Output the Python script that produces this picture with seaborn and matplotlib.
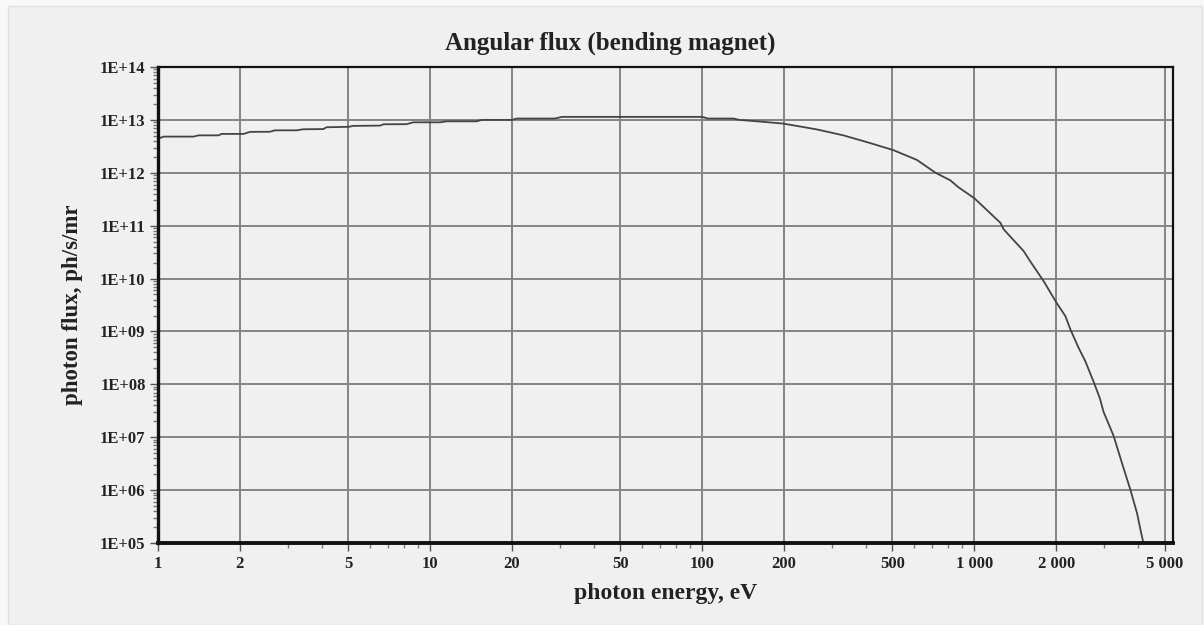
import numpy as np
import pandas as pd
import matplotlib
matplotlib.use("Agg")
import matplotlib.pyplot as plt
import matplotlib.ticker as mticker
from matplotlib.patches import Rectangle
import seaborn as sns

# Photon energy (eV) and angular flux (ph/s/mr) of the bending magnet spectrum
energy_ev = [1.0, 1.05, 1.35, 1.41, 1.67, 1.71, 2.06, 2.18, 2.58, 2.69, 3.23, 3.42,
             4.05, 4.16, 5.04, 5.2, 6.55, 6.74, 8.2, 8.67, 10.9, 11.5, 14.8, 15.5,
             20.0, 20.8, 28.7, 30.5, 100.0, 105.0, 130.0, 137.0, 159.0, 199.0, 264.0,
             330.0, 403.0, 502.0, 615.0, 720.0, 816.0, 875.0, 1000.0, 1247.0, 1282.0,
             1518.0, 1606.0, 1798.0, 1996.0, 2160.0, 2256.0, 2416.0, 2560.0, 2746.0,
             2890.0, 2985.0, 3251.0, 3490.0, 3748.0, 3965.0, 4076.0, 4180.0]
flux = [4.43e12, 4.83e12, 4.83e12, 5.1e12, 5.1e12, 5.43e12, 5.43e12, 5.93e12, 5.97e12,
        6.35e12, 6.35e12, 6.65e12, 6.7e12, 7.25e12, 7.4e12, 7.7e12, 7.8e12, 8.26e12,
        8.3e12, 9.0e12, 9.0e12, 9.4e12, 9.4e12, 1.0e13, 1.0e13, 1.06e13, 1.06e13,
        1.14e13, 1.14e13, 1.06e13, 1.06e13, 1.0e13, 9.4e12, 8.5e12, 6.6e12, 5.1e12,
        3.8e12, 2.7e12, 1.75e12, 1.0e12, 7.2e11, 5.3e11, 3.3e11, 1.13e11, 8.5e10,
        3.3e10, 2.1e10, 8.9e9, 3.6e9, 1.95e9, 1.08e9, 4.9e8, 2.7e8, 1.1e8,
        5.5e7, 3.0e7, 1.05e7, 3.2e6, 1.0e6, 3.6e5, 1.8e5, 1.0e5]

x_ticks = [1, 2, 5, 10, 20, 50, 100, 200, 500, 1000, 2000, 5000]
x_tick_labels = ["1", "2", "5", "10", "20", "50", "100", "200", "500",
                 "1 000", "2 000", "5 000"]
y_ticks = [1e5, 1e6, 1e7, 1e8, 1e9, 1e10, 1e11, 1e12, 1e13, 1e14]
y_tick_labels = ["1E+05", "1E+06", "1E+07", "1E+08", "1E+09", "1E+10",
                 "1E+11", "1E+12", "1E+13", "1E+14"]

title = "Angular flux (bending magnet)"
x_label = "photon energy, eV"
y_label = "photon flux, ph/s/mr"

sns.set_theme(style="ticks")
plt.rcParams["font.family"] = ["Liberation Serif", "DejaVu Serif"]
plt.rcParams["font.weight"] = "bold"

TEXT = "#222222"
BG = "#f0f0f0"

fig = plt.figure(figsize=(12.04, 6.25), dpi=100, facecolor="#f8f8f8")
fig.patches.append(Rectangle((8 / 1204, 0), 1 - 10 / 1204, 1 - 6 / 625,
                             transform=fig.transFigure, facecolor=BG,
                             edgecolor="#e0e0e0", linewidth=1.0, zorder=-10))
ax = fig.add_axes([158 / 1204, 1 - 543 / 625, (1173 - 158) / 1204, (543 - 67) / 625])
ax.set_facecolor(BG)

df = pd.DataFrame({"energy": energy_ev, "flux": flux})
sns.lineplot(data=df, x="energy", y="flux", ax=ax, color="#444444",
             linewidth=1.3, sort=False, estimator=None)

ax.set_xscale("log")
ax.set_yscale("log")
ax.set_xlim(1, 5370)
ax.set_ylim(1e5, 1e14)

ax.xaxis.set_major_locator(mticker.FixedLocator(x_ticks))
ax.xaxis.set_major_formatter(mticker.FixedFormatter(x_tick_labels))
ax.yaxis.set_major_locator(mticker.FixedLocator(y_ticks))
ax.yaxis.set_major_formatter(mticker.FixedFormatter(y_tick_labels))
ax.xaxis.set_minor_locator(mticker.LogLocator(base=10, subs=(3, 4, 6, 7, 8, 9), numticks=20))
ax.yaxis.set_minor_locator(mticker.LogLocator(base=10, subs=(2, 3, 4, 5, 6, 7, 8, 9), numticks=20))
ax.xaxis.set_minor_formatter(mticker.NullFormatter())
ax.yaxis.set_minor_formatter(mticker.NullFormatter())

ax.grid(True, which="major", color="#858585", linewidth=1.4)
ax.set_axisbelow(True)

ax.tick_params(axis="both", which="major", direction="out", length=6, width=1.0,
               color="#555555", labelsize=12, labelcolor=TEXT, pad=3)
ax.tick_params(axis="both", which="minor", direction="out", length=3.5, width=1.0,
               color="#777777")
for lab in ax.get_xticklabels() + ax.get_yticklabels():
    lab.set_fontweight("bold")

for side, lw in (("left", 2.4), ("bottom", 2.8), ("top", 1.6), ("right", 1.6)):
    ax.spines[side].set_visible(True)
    ax.spines[side].set_color("#111111")
    ax.spines[side].set_linewidth(lw)

ax.set_xlabel(x_label, fontsize=17, fontweight="bold", color=TEXT, labelpad=8)
ax.set_ylabel(y_label, fontsize=16.5, fontweight="bold", color=TEXT, labelpad=12)
fig.text(610 / 1204, 1 - 43 / 625, title, ha="center", va="center",
         fontsize=18, fontweight="bold", color=TEXT)

fig.savefig("out.png", dpi=100, facecolor=fig.get_facecolor())
